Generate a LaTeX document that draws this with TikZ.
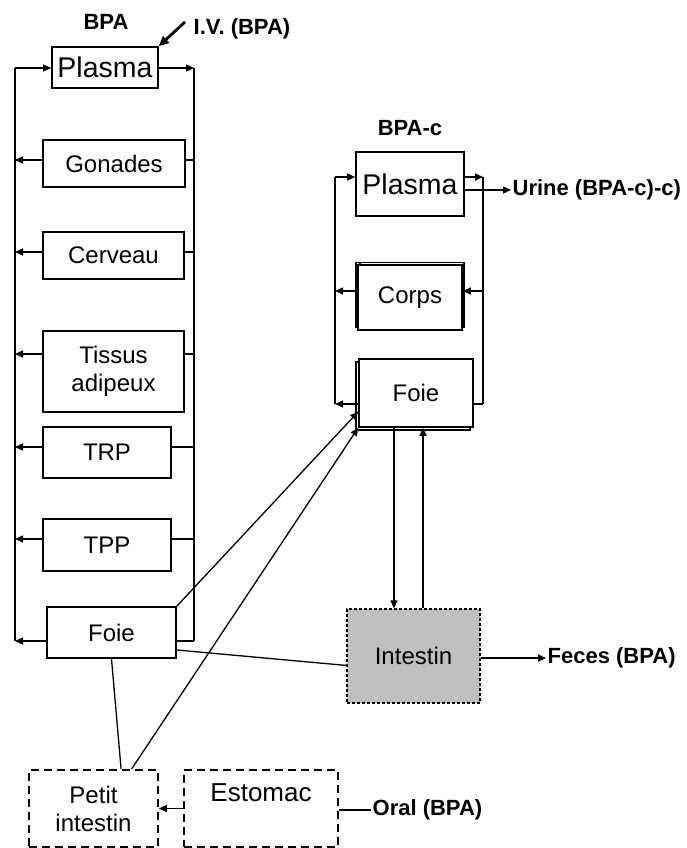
\documentclass[tikz,border=0pt]{standalone}
\usepackage{fontspec}
\setmainfont{Liberation Sans}
\usetikzlibrary{arrows.meta,shadows}
\tikzset{
  box/.style={draw, fill=white, line width=1.6pt, inner sep=0pt, align=center,
    font=\fontsize{24}{28}\selectfont},
  big/.style={font=\fontsize{28.5}{32}\selectfont},
  gut/.style={box, dash pattern=on 8pt off 5pt, line width=1.8pt},
  lumen/.style={box, fill=gray!50, dash pattern=on 3pt off 2pt, line width=1.3pt},
  lbl/.style={font=\bfseries\fontsize{22}{26}\selectfont, inner sep=1pt},
  arr/.style={-{Triangle[length=8pt,width=7pt]}}
}
\begin{document}
\begin{tikzpicture}[x=1pt, y=-1pt, line width=1.3pt]
  \useasboundingbox (0,0) rectangle (687,848);
  \def\organ#1#2#3#4#5#6#7{
    \node[box, minimum width=#4pt, minimum height=#5pt] (#1) at (#2,#3) {#6};
    \coordinate (l#1) at (15,#7);
    \coordinate (r#1) at (194,#7);
    \draw[arr] (#1.west |- l#1) -- (l#1);
    \draw (r#1) -- (#1.east |- r#1);
  }

  \node[lbl] (bpa) at (106,22) {BPA};
  \node[box, big, minimum width=106pt, minimum height=41pt] (plasA) at (105,67.5) {Plasma};
  \coordinate (lplasA) at (15,68);
  \coordinate (rplasA) at (194,68);
  \draw[arr] (lplasA) -- (plasA.west |- lplasA);
  \draw[arr] (plasA.east |- rplasA) -- (rplasA);
  \node[lbl, anchor=west] (iv) at (192,29) {I.V. (BPA)};
  \coordinate (ivtail) at (185,22);
  \draw[line width=2.8pt, -{Triangle[length=10pt,width=9pt]}] (ivtail) -- (plasA.north east);

  \organ{gon}{114}{163.5}{142}{47}{Gonades}{160}
  \organ{cer}{113.5}{255.5}{141}{47}{Cerveau}{252}
  \organ{tis}{113.5}{371.5}{141}{81}{Tissus\\adipeux}{354}
  \organ{trp}{107}{452.5}{128}{51}{TRP}{447}
  \organ{tpp}{107}{545}{128}{52}{TPP}{539}
  \organ{foieA}{111.5}{632.5}{129}{51}{Foie}{641}
  \draw (lplasA) -- (lfoieA);
  \draw (rplasA) -- (rfoieA);

  \node[lbl] (bpac) at (410,128) {BPA-c};
  \node[box, big, minimum width=108pt, minimum height=64pt] (plasC) at (410,184) {Plasma};
  \coordinate (lplasC) at (335,177);
  \coordinate (rplasC) at (483,177);
  \draw[arr] (lplasC) -- (plasC.west |- lplasC);
  \draw[arr] (plasC.east |- rplasC) -- (rplasC);
  \node[lbl, anchor=west] (urine) at (511,190) {Urine (BPA-c)-c)};
  \draw[arr] (plasC.east |- urine) -- (urine.west);

  \node[box, minimum width=104pt, minimum height=65pt,
    copy shadow={shadow xshift=-2pt}, copy shadow={shadow xshift=2pt}] (corps) at (410,297.5) {Corps};
  \coordinate (lcorps) at (335,291);
  \coordinate (rcorps) at (483,291);
  \draw[arr] (corps.west |- lcorps) -- (lcorps);
  \draw[arr] (rcorps) -- (corps.east |- rcorps);

  \node[box, minimum width=114pt, minimum height=68pt,
    copy shadow={shadow xshift=-3pt, shadow yshift=-3pt}] (foieC) at (416,393) {Foie};
  \coordinate (lfoieC) at (335,404);
  \coordinate (rfoieC) at (483,404);
  \draw[arr] (foieC.west |- lfoieC) -- (lfoieC);
  \draw (rfoieC) -- (foieC.east |- rfoieC);
  \draw (lplasC) -- (lfoieC);
  \draw (rplasC) -- (rfoieC);

  \node[lumen, minimum width=133pt, minimum height=94pt] (intes) at (413.5,656) {Intestin};
  \draw[arr] ([xshift=-22pt]foieC.south) -- ([xshift=-22pt]foieC.south |- intes.north);
  \draw[arr] ([xshift=7pt]foieC.south |- intes.north) -- ([xshift=7pt]foieC.south);
  \node[lbl, anchor=west] (feces) at (546,658) {Feces (BPA)};
  \draw[arr] (intes.east |- feces) -- (feces.west);

  \node[gut, minimum width=129pt, minimum height=77pt] (petit) at (93.5,808.5) {Petit\\intestin};
  \node[gut, minimum width=154pt, minimum height=77pt, font=\fontsize{26}{30}\selectfont,
    text depth=32pt] (estomac) at (261,808.5) {Estomac};
  \draw[arr] (estomac.west) -- (petit.east);
  \node[lbl, anchor=west] (oral) at (371,810) {Oral (BPA)};
  \draw (estomac.east |- oral) -- (oral.west);

  \draw (foieA.-15) -- (intes.188);
  \draw (foieA.south) -- (petit.55);
  \draw[arr] (foieA.north east) -- (foieC.198);
  \draw[arr] (petit.46) -- (foieC.south west);
\end{tikzpicture}
\end{document}
